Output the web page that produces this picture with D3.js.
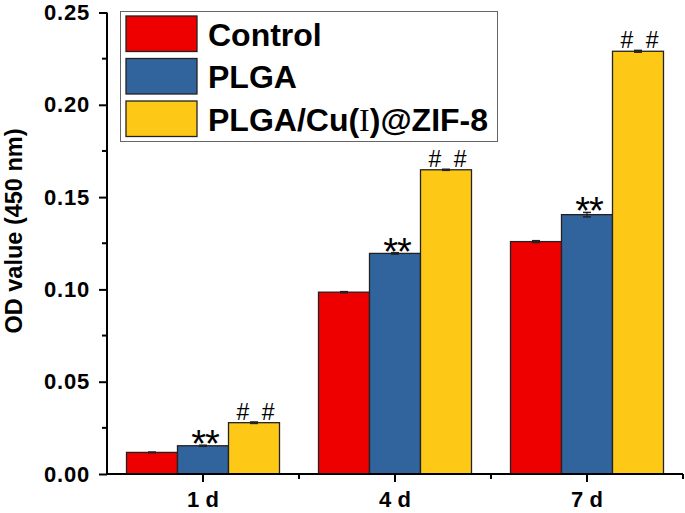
<!DOCTYPE html>
<html><head><meta charset="utf-8">
<script src="https://cdn.jsdelivr.net/npm/d3@7"></script>
<style>body{margin:0;background:#fff}svg{display:block}</style>
</head><body>
<svg id="c" width="685" height="513"></svg>
<script>
const categories = ["1 d", "4 d", "7 d"];
const seriesNames = ["Control", "PLGA", "PLGA/Cu(I)@ZIF-8"];
const controlValues = [0.0117, 0.0985, 0.1259];
const plgaValues = [0.0153, 0.1195, 0.1405];
const zifValues = [0.0278, 0.1648, 0.2290];
const controlErr = [0.0002, 0.0003, 0.0005];
const plgaErr = [0.0003, 0.0004, 0.0012];
const zifErr = [0.0004, 0.0003, 0.0005];
const plgaMarks = ["**", "**", "**"];
const zifMarks = ["# #", "# #", "# #"];
const yTicks = [0, 0.05, 0.10, 0.15, 0.20, 0.25];
const colors = ["#EE0000", "#31639C", "#FEC817"];

const svg = d3.select("#c");
const L = 107, R = 683, T = 12.5, B = 474;
const x = d3.scaleBand().domain(categories).range([L, R]).padding(0);
const y = d3.scaleLinear().domain([0, 0.25]).range([B, T]);
const barW = 51;
const sub = d3.scaleBand().domain(seriesNames).range([0, barW * 3]).padding(0);

const series = [
  {name: seriesNames[0], vals: controlValues, err: controlErr, marks: null},
  {name: seriesNames[1], vals: plgaValues, err: plgaErr, marks: plgaMarks},
  {name: seriesNames[2], vals: zifValues, err: zifErr, marks: zifMarks}
];

const font = "Liberation Sans, Arial, sans-serif";

series.forEach((s, si) => {
  const g = svg.append("g");
  categories.forEach((c, ci) => {
    const x0 = x(c) + x.bandwidth() / 2 - barW * 1.5 + sub(s.name);
    const v = s.vals[ci];
    g.append("rect").attr("x", x0).attr("y", y(v)).attr("width", sub.bandwidth())
      .attr("height", B - y(v)).attr("fill", colors[si]).attr("stroke", "#222").attr("stroke-width", 1.3);
    const cx = x0 + sub.bandwidth() / 2;
    const e = s.err[ci];
    g.append("line").attr("x1", cx).attr("x2", cx).attr("y1", y(v + e)).attr("y2", y(v - e)).attr("stroke", "#222").attr("stroke-width", 1.2);
    [v + e, v - e].forEach(w => g.append("line").attr("x1", cx - 4).attr("x2", cx + 4).attr("y1", y(w)).attr("y2", y(w)).attr("stroke", "#222").attr("stroke-width", 1.5));
    if (s.marks) {
      const top = y(v + e);
      if (si === 1) {
        svg.append("text").attr("x", cx + 2).attr("y", top + 12).attr("text-anchor", "middle")
          .attr("font-family", font).attr("font-size", 38).attr("letter-spacing", -1).attr("fill", "#000").text(s.marks[ci]);
      } else {
        svg.append("text").attr("x", cx + 3).attr("y", top - 2).attr("text-anchor", "middle")
          .attr("font-family", font).attr("font-size", 23).attr("letter-spacing", 3).attr("fill", "#000").text(s.marks[ci]);
      }
    }
  });
});

// Y axis
const yAxis = d3.axisLeft(y).tickValues(yTicks).tickFormat(d3.format(".2f")).tickSize(8).tickPadding(9);
const ya = svg.append("g").attr("transform", `translate(${L},0)`).call(yAxis);
ya.select(".domain").attr("d", `M0,${T}V${B}`).attr("stroke-width", 2);
ya.selectAll(".tick line").attr("stroke-width", 2);
ya.selectAll(".tick text").attr("font-family", font).attr("font-size", 22).attr("font-weight", "bold").attr("letter-spacing", 0.8).attr("fill", "#000");
const yMinor = d3.range(0.025, 0.25, 0.05);
ya.selectAll(".minor").data(yMinor).enter().append("line").attr("class", "minor")
  .attr("x1", -5).attr("x2", 0).attr("y1", d => y(d)).attr("y2", d => y(d)).attr("stroke", "#000").attr("stroke-width", 2);

// X axis
const xAxis = d3.axisBottom(x).tickSize(8).tickPadding(9);
const xa = svg.append("g").attr("transform", `translate(0,${B})`).call(xAxis);
xa.select(".domain").attr("d", `M${L},0H${R}`).attr("stroke-width", 2);
xa.selectAll(".tick line").attr("stroke-width", 2);
xa.selectAll(".tick text").attr("font-family", font).attr("font-size", 22).attr("font-weight", "bold").attr("fill", "#000").attr("dy", "0.71em");
const xMinor = categories.slice(1).map(c => x(c)).concat([R]);
xa.selectAll(".minor").data(xMinor).enter().append("line").attr("class", "minor")
  .attr("x1", d => d).attr("x2", d => d).attr("y1", 0).attr("y2", 5).attr("stroke", "#000").attr("stroke-width", 2);

// Y title
svg.append("text").attr("transform", "translate(22,231) rotate(-90)").attr("text-anchor", "middle")
  .attr("font-family", font).attr("font-size", 23.5).attr("font-weight", "bold").attr("fill", "#000").text("OD value (450 nm)");

// Legend
const lg = svg.append("g");
lg.append("rect").attr("x", 120.5).attr("y", 11.5).attr("width", 377).attr("height", 130).attr("fill", "#fff").attr("stroke", "#666").attr("stroke-width", 1);
const rowY = [16, 58.5, 101];
seriesNames.forEach((n, i) => {
  lg.append("rect").attr("x", 126).attr("y", rowY[i]).attr("width", 71).attr("height", 35.5).attr("fill", colors[i]).attr("stroke", "#222").attr("stroke-width", 1.3);
  const t = lg.append("text").attr("x", 208).attr("y", rowY[i] + 29.5).attr("font-family", font).attr("font-size", 32).attr("font-weight", "bold").attr("fill", "#000");
  if (n.includes("(I)")) {
    const parts = n.split("(I)");
    t.append("tspan").text(parts[0] + "(");
    t.append("tspan").attr("font-family", "Liberation Serif, Times New Roman, serif").attr("font-weight", "normal").text("I");
    t.append("tspan").text(")" + parts[1]);
  } else {
    t.text(n);
  }
});
</script>
</body></html>
